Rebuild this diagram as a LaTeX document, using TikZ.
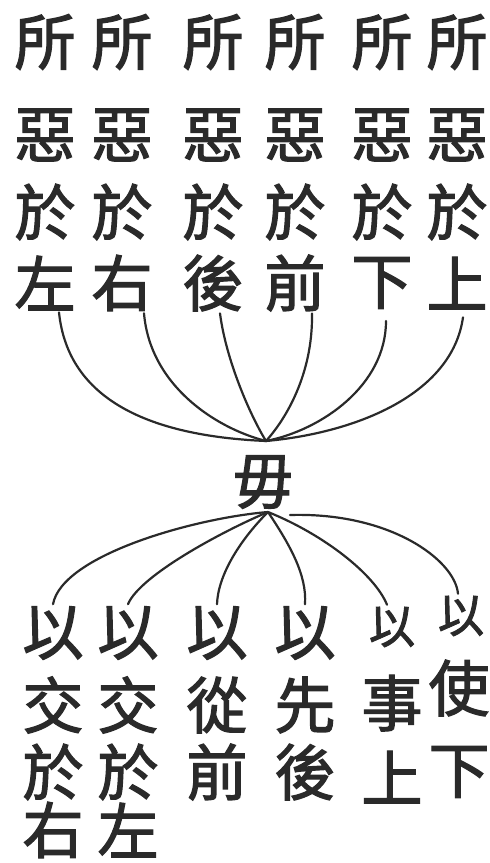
\documentclass[tikz,border=0pt]{standalone}
\usepackage{fontspec}
\newfontfamily\cjk[FakeBold=2]{Noto Sans CJK TC}
\definecolor{ink}{HTML}{2A2A2A}
\begin{document}
\begin{tikzpicture}[x=1pt,y=-1pt,
  ch/.style={font=\cjk\fontsize{61}{61}\selectfont, text=ink, inner sep=0pt},
  chs/.style={font=\cjk\fontsize{46}{46}\selectfont, text=ink, inner sep=0pt},
  link/.style={draw=ink, line width=2.2pt, line cap=round}]
\useasboundingbox (0,0) rectangle (490,863);
% top columns
\node[ch] (t11) at (45,42) {所};  \node[ch] (t12) at (45,135) {惡};  \node[ch] (t13) at (45,212) {於};  \node[ch] (t14) at (45,283) {左};
\node[ch] (t21) at (122,42) {所}; \node[ch] (t22) at (122,135) {惡}; \node[ch] (t23) at (122,212) {於}; \node[ch] (t24) at (122,283) {右};
\node[ch] (t31) at (213,42) {所}; \node[ch] (t32) at (213,135) {惡}; \node[ch] (t33) at (213,212) {於}; \node[ch] (t34) at (213,283) {後};
\node[ch] (t41) at (295,42) {所}; \node[ch] (t42) at (295,135) {惡}; \node[ch] (t43) at (295,212) {於}; \node[ch] (t44) at (295,283) {前};
\node[ch] (t51) at (382,42) {所}; \node[ch] (t52) at (382,135) {惡}; \node[ch] (t53) at (382,212) {於}; \node[ch] (t54) at (382,283) {下};
\node[ch] (t61) at (457,42) {所}; \node[ch] (t62) at (457,135) {惡}; \node[ch] (t63) at (457,212) {於}; \node[ch] (t64) at (457,283) {上};
% centre
\node[ch] (wu) at (263,482) {毋};
\coordinate (top) at (266,441);
\coordinate (bot) at (268,512);
% bottom columns
\node[ch] (b11) at (53,633) {以};  \node[ch] (b12) at (53,705) {交};  \node[ch] (b13) at (53,772) {於};  \node[ch] (b14) at (53,830) {右};
\node[ch] (b21) at (128,633) {以}; \node[ch] (b22) at (128,705) {交}; \node[ch] (b23) at (128,772) {於}; \node[ch] (b24) at (128,830) {左};
\node[ch] (b31) at (217,633) {以}; \node[ch] (b32) at (217,705) {從}; \node[ch] (b33) at (217,772) {前};
\node[ch] (b41) at (305,633) {以}; \node[ch] (b42) at (305,705) {先}; \node[ch] (b43) at (305,772) {後};
\node[chs] (b51) at (392,627) {以}; \node[ch] (b52) at (392,703) {事}; \node[ch] (b53) at (392,777) {上};
\node[chs] (b61) at (461,616) {以}; \node[ch] (b62) at (459,688) {使}; \node[ch] (b63) at (459,772) {下};
% upper connectors
\draw[link] ([xshift=14pt,yshift=-2pt]t14.south) .. controls (68,400) and (150,436) .. (top);
\draw[link] ([xshift=22pt,yshift=-2pt]t24.south) .. controls (150,385) and (215,428) .. (top);
\draw[link] ([xshift=7pt,yshift=-2pt]t34.south) .. controls (226,360) and (250,415) .. (top);
\draw[link] ([xshift=17pt,yshift=-2pt]t44.south) .. controls (313,375) and (285,420) .. (top);
\draw[link] ([xshift=4pt,yshift=-12pt]t54.south) .. controls (386,385) and (322,430) .. (top);
\draw[link] ([xshift=6pt,yshift=-8pt]t64.south) .. controls (452,395) and (355,433) .. (top);
% lower connectors
\draw[link] (bot) .. controls (195,518) and (62,555) .. ([yshift=2pt]b11.north);
\draw[link] (bot) .. controls (225,530) and (140,575) .. ([yshift=2pt]b21.north);
\draw[link] (bot) .. controls (240,540) and (218,575) .. ([yshift=2pt]b31.north);
\draw[link] (bot) .. controls (290,545) and (307,575) .. ([yshift=2pt]b41.north);
\draw[link] (bot) .. controls (325,535) and (375,575) .. ([xshift=-5pt,yshift=2pt]b51.north);
\draw[link] ([xshift=22pt,yshift=-3pt]bot) .. controls (390,512) and (455,560) .. ([xshift=-3pt,yshift=2pt]b61.north);
\end{tikzpicture}
\end{document}
